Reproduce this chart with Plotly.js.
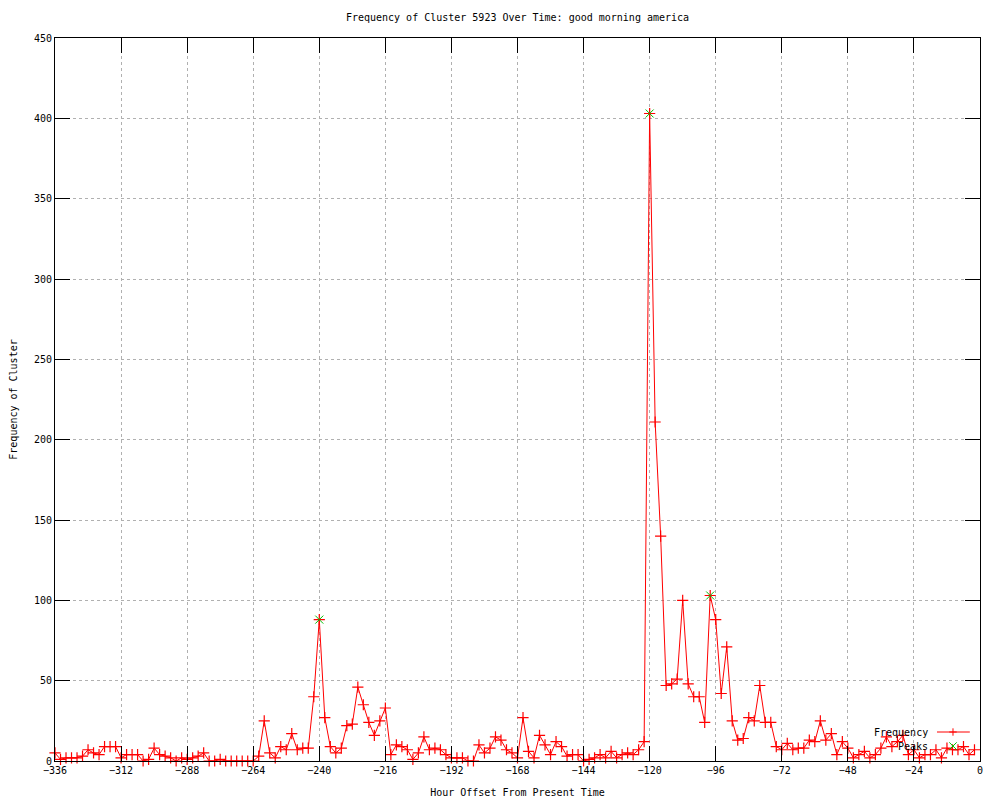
<!DOCTYPE html>
<html>
<head>
<meta charset="utf-8">
<script src="https://cdn.plot.ly/plotly-3.0.1.min.js"></script>
<style>html,body{margin:0;padding:0;background:#fff;}#chart{width:1000px;height:800px;}</style>
</head>
<body>
<div id="chart"></div>
<script>
const hours = [-336,-334,-332,-330,-328,-326,-324,-322,-320,-318,-316,-314,-312,-310,-308,-306,-304,-302,-300,-298,-296,-294,-292,-290,-288,-286,-284,-282,-280,-278,-276,-274,-272,-270,-268,-266,-264,-262,-260,-258,-256,-254,-252,-250,-248,-246,-244,-242,-240,-238,-236,-234,-232,-230,-228,-226,-224,-222,-220,-218,-216,-214,-212,-210,-208,-206,-204,-202,-200,-198,-196,-194,-192,-190,-188,-186,-184,-182,-180,-178,-176,-174,-172,-170,-168,-166,-164,-162,-160,-158,-156,-154,-152,-150,-148,-146,-144,-142,-140,-138,-136,-134,-132,-130,-128,-126,-124,-122,-120,-118,-116,-114,-112,-110,-108,-106,-104,-102,-100,-98,-96,-94,-92,-90,-88,-86,-84,-82,-80,-78,-76,-74,-72,-70,-68,-66,-64,-62,-60,-58,-56,-54,-52,-50,-48,-46,-44,-42,-40,-38,-36,-34,-32,-30,-28,-26,-24,-22,-20,-18,-16,-14,-12,-10,-8,-6,-4,-2];
const frequency = [5,1,2,2,2,3,7,5,4,9,9,9,2,4,4,4,0,1,8,4,3,2,0,2,1,2,3,5,0,0,1,0,0,0,0,0,0,3,25,5,2,9,7,17,7,8,8,40,88,27,9,5,8,22,23,46,35,24,16,25,33,4,10,9,7,1,5,15,7,8,7,4,2,2,2,0,0,10,5,8,15,13,7,5,2,27,6,2,16,10,4,12,9,3,4,4,0,1,2,4,2,6,2,4,5,4,7,12,403,211,140,47,48,51,100,48,40,40,24,103,88,42,71,25,13,14,27,25,47,24,24,9,7,11,7,8,8,13,12,25,13,17,4,12,8,2,4,6,2,4,8,15,9,12,16,4,7,2,4,4,7,2,8,7,7,9,4,7];
const peakHours = [-240,-120,-98];
const peakValues = [88,403,103];
const xTicks = [-336,-312,-288,-264,-240,-216,-192,-168,-144,-120,-96,-72,-48,-24,0];
const yTicks = [0,50,100,150,200,250,300,350,400,450];

const FONT = {family: 'DejaVu Sans Mono, monospace', size: 10, color: '#000'};

const traces = [
  {x: hours, y: frequency, type: 'scatter', mode: 'lines+markers', name: 'Frequency',
   line: {color: '#ff0000', width: 1},
   marker: {symbol: 'cross-thin-open', size: 8, color: '#ff0000', line: {color: '#ff0000', width: 1.2}},
   cliponaxis: false},
  {x: peakHours, y: peakValues, type: 'scatter', mode: 'markers', name: 'Peaks',
   marker: {symbol: 'x-thin-open', size: 8, color: '#00c000', line: {color: '#00c000', width: 1}},
   cliponaxis: false}
];

// legend samples (paper coordinates)
const lx = 0.9708, ly1 = 0.0401, ly2 = 0.0207, dx = 0.0040, dy = 0.0051;
const shapes = [
  {type: 'line', xref: 'paper', yref: 'paper', x0: 0.9535, x1: 0.989, y0: ly1, y1: ly1, line: {color: '#ff0000', width: 1}},
  {type: 'path', xref: 'paper', yref: 'paper', path: `M${lx-dx},${ly1} L${lx+dx},${ly1} M${lx},${ly1-dy} L${lx},${ly1+dy}`, line: {color: '#ff0000', width: 1}},
  {type: 'path', xref: 'paper', yref: 'paper', path: `M${lx-dx},${ly2-dy} L${lx+dx},${ly2+dy} M${lx-dx},${ly2+dy} L${lx+dx},${ly2-dy}`, line: {color: '#00c000', width: 1}}
];
const annotations = [
  {xref: 'paper', yref: 'paper', x: 0.946, y: ly1, text: 'Frequency', showarrow: false, xanchor: 'right', yanchor: 'middle', font: FONT},
  {xref: 'paper', yref: 'paper', x: 0.946, y: ly2, text: 'Peaks', showarrow: false, xanchor: 'right', yanchor: 'middle', font: FONT}
];

const axisCommon = {
  showline: true, linecolor: '#000', linewidth: 1, mirror: 'allticks',
  ticks: 'inside', ticklen: 15, tickwidth: 1, tickcolor: '#000',
  showgrid: true, gridcolor: '#b0b0b0', griddash: 'dot', gridwidth: 1,
  zeroline: false, tickfont: FONT, fixedrange: true
};

const layout = {
  width: 1000, height: 800,
  paper_bgcolor: '#fff', plot_bgcolor: '#fff',
  margin: {l: 55, r: 20, t: 38, b: 39},
  showlegend: false,
  title: {text: 'Frequency of Cluster 5923 Over Time: good morning america', font: FONT,
          xref: 'paper', x: 0.5, xanchor: 'center', yref: 'container', y: 0.978, yanchor: 'middle'},
  xaxis: Object.assign({}, axisCommon, {range: [-336, 0], tickmode: 'array', tickvals: xTicks,
          title: {text: 'Hour Offset From Present Time', font: FONT, standoff: 13}}),
  yaxis: Object.assign({}, axisCommon, {range: [0, 450], tickmode: 'array', tickvals: yTicks,
          title: {text: 'Frequency of Cluster', font: FONT, standoff: 14}}),
  shapes: shapes,
  annotations: annotations
};

Plotly.newPlot('chart', traces, layout, {displayModeBar: false, staticPlot: true});
</script>
</body>
</html>
